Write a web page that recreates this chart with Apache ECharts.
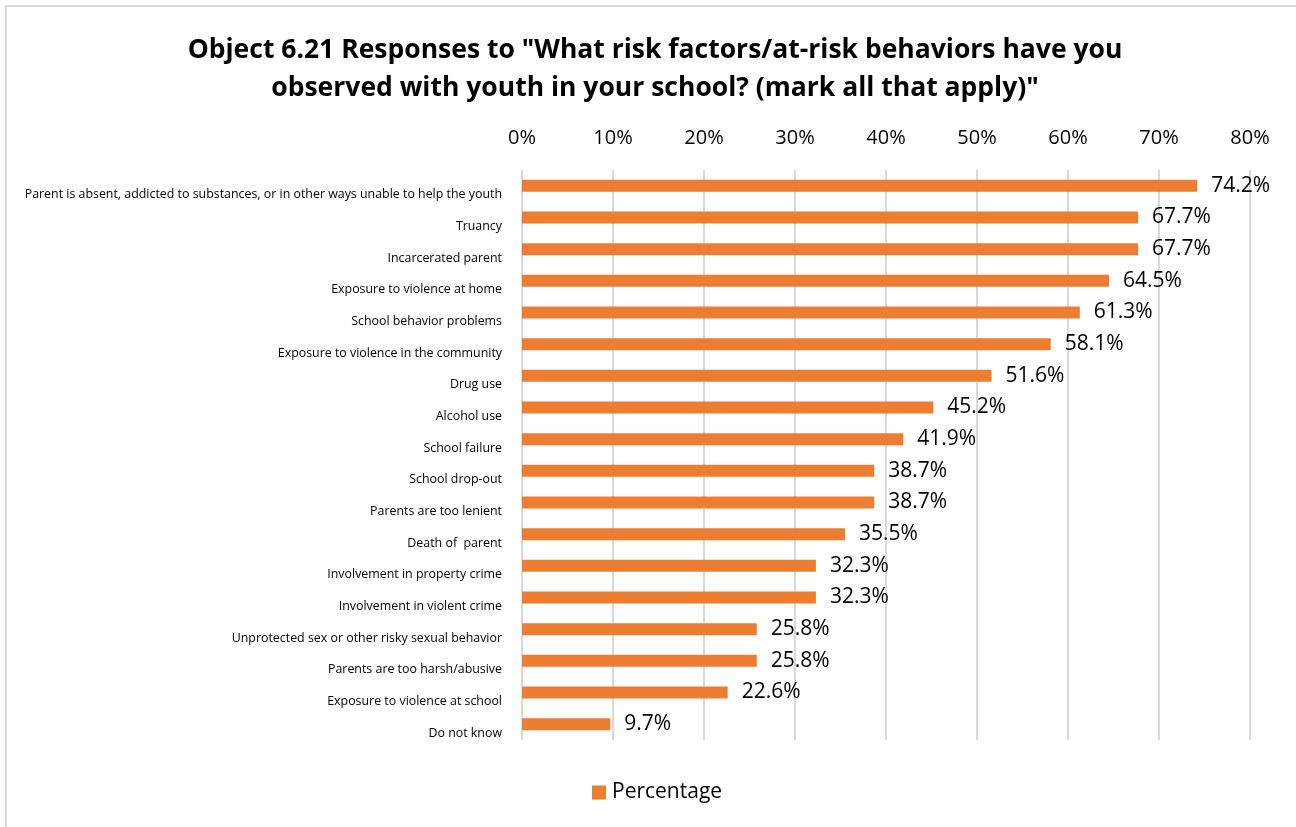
<!DOCTYPE html>
<html>
<head>
<meta charset="utf-8">
<script src="https://cdn.jsdelivr.net/npm/echarts@6/dist/echarts.min.js"></script>
<style>
  html, body { margin: 0; padding: 0; background: #fff; }
  #frame { position: absolute; left: 5px; top: 5px; width: 1300px; height: 830px; border: 2px solid #d9d9d9; box-sizing: border-box; }
  #chart { position: absolute; left: 0; top: 0; width: 1296px; height: 827px; }
</style>
</head>
<body>
<div id="frame"></div>
<div id="chart"></div>
<script>
// Survey responses, listed top to bottom
const categories = [
  "Parent is absent, addicted to substances, or in other ways unable to help the youth",
  "Truancy",
  "Incarcerated parent",
  "Exposure to violence at home",
  "School behavior problems",
  "Exposure to violence in the community",
  "Drug use",
  "Alcohol use",
  "School failure",
  "School drop-out",
  "Parents are too lenient",
  "Death of  parent",
  "Involvement in property crime",
  "Involvement in violent crime",
  "Unprotected sex or other risky sexual behavior",
  "Parents are too harsh/abusive",
  "Exposure to violence at school",
  "Do not know"
];
const percentages = [74.2, 67.7, 67.7, 64.5, 61.3, 58.1, 51.6, 45.2, 41.9, 38.7, 38.7, 35.5, 32.3, 32.3, 25.8, 25.8, 22.6, 9.7];
const seriesName = "Percentage";
const titleText = 'Object 6.21 Responses to "What risk factors/at-risk behaviors have you\nobserved with youth in your school? (mark all that apply)"';

const chart = echarts.init(document.getElementById('chart'));
chart.setOption({
  animation: false,
  textStyle: { fontFamily: "Open Sans" },
  title: {
    text: titleText,
    left: 650,
    textAlign: 'center',
    top: 26,
    textStyle: { fontSize: 26.5, fontWeight: 'bold', color: '#000', lineHeight: 38, fontFamily: "Open Sans" }
  },
  legend: {
    bottom: 19,
    left: 587,
    itemWidth: 14,
    itemHeight: 14,
    itemGap: 10,
    icon: 'rect',
    textStyle: { fontSize: 21, color: '#000', padding: [0, 0, 0, 1] },
    data: [seriesName]
  },
  grid: { left: 522, right: 46, top: 170, bottom: 87, containLabel: false },
  xAxis: {
    type: 'value',
    position: 'top',
    min: 0, max: 80, interval: 10,
    axisLine: { show: false },
    axisTick: { show: false },
    axisLabel: { formatter: '{value}%', fontSize: 20, color: '#000', margin: 22 },
    splitLine: { lineStyle: { color: '#d9d9d9', width: 2 } }
  },
  yAxis: {
    type: 'category',
    inverse: true,
    data: categories,
    axisLine: { show: false },
    axisTick: { show: false },
    axisLabel: { fontSize: 12.4, color: '#000', margin: 20, verticalAlign: 'top', lineHeight: 18 }
  },
  series: [{
    name: seriesName,
    type: 'bar',
    data: percentages,
    barWidth: 12,
    itemStyle: { color: '#ED7D31' },
    label: {
      show: true,
      position: 'right',
      distance: 14,
      formatter: p => p.value.toFixed(1) + '%',
      fontSize: 21,
      color: '#000'
    }
  }]
});
</script>
</body>
</html>
